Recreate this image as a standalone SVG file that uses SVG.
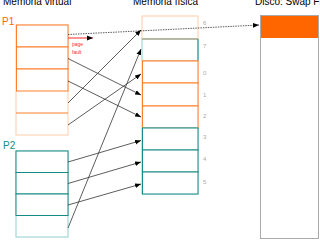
<svg xmlns="http://www.w3.org/2000/svg" width="320" height="240" viewBox="0 0 320 240">
  <defs>
    <style>
      .title { font-family: "Liberation Sans", Arial, sans-serif; font-size: 10px; fill: #000; }
      .plabel { font-family: "Liberation Sans", Arial, sans-serif; font-size: 10px; }
      .num { font-family: "Liberation Sans", Arial, sans-serif; font-size: 6px; fill: #aaa; }
      .fault { font-family: "Liberation Sans", Arial, sans-serif; font-size: 5px; fill: #ff2a2a; }
      .or { fill: #fff; stroke: #ff7f2a; stroke-width: 1; }
      .orl { fill: #fff; stroke: #ffccaa; stroke-width: 1; }
      .te { fill: #fff; stroke: #168a84; stroke-width: 1; }
      .tel { fill: #fff; stroke: #8fcfcf; stroke-width: 1; }
      .link { stroke: #333; stroke-width: 0.8; fill: none; marker-end: url(#ah); }
    </style>
    <marker id="ah" viewBox="0 0 10 10" refX="10" refY="5" markerWidth="6" markerHeight="6" markerUnits="userSpaceOnUse" orient="auto">
      <path d="M0,1 L10,5 L0,9 Z" fill="#000"/>
    </marker>
    <marker id="ahr" viewBox="0 0 10 10" refX="10" refY="5" markerWidth="6" markerHeight="6" markerUnits="userSpaceOnUse" orient="auto">
      <path d="M0,1 L10,5 L0,9 Z" fill="#000"/>
    </marker>
  </defs>

  <!-- column titles -->
  <text class="title" x="3" y="5">Memoria virtual</text>
  <text class="title" x="133" y="5">Memoria física</text>
  <text class="title" x="255" y="5">Disco: Swap File</text>

  <!-- process 1 virtual pages -->
  <g id="p1">
    <text class="plabel" x="2" y="25" fill="#ff6600">P1</text>
    <rect class="orl" x="16" y="25" width="52" height="110"/>
    <rect class="or" x="16.5" y="25" width="51.5" height="22"/>
    <rect class="or" x="16.5" y="47" width="51.5" height="22"/>
    <rect class="or" x="16.5" y="69" width="51.5" height="22"/>
    <line x1="16" y1="113" x2="68" y2="113" stroke="#ff7f2a"/>
  </g>

  <!-- process 2 virtual pages -->
  <g id="p2">
    <text class="plabel" x="3" y="149" fill="#168a84">P2</text>
    <rect class="tel" x="16" y="151" width="52" height="86"/>
    <rect class="te" x="16" y="151" width="52" height="21.5"/>
    <rect class="te" x="16" y="172.5" width="52" height="21.5"/>
    <rect class="te" x="16" y="194" width="52" height="21.5"/>
  </g>

  <!-- physical frames -->
  <g id="fisica">
    <rect class="orl" x="142" y="16" width="56" height="23"/>
    <rect class="tel" x="142" y="39" width="56" height="22"/>
    <line x1="198" y1="39" x2="198" y2="61" stroke="#168a84"/>
    <line x1="142" y1="39" x2="198" y2="39" stroke="#a89070"/>
    <line x1="142" y1="61" x2="198" y2="61" stroke="#a89070"/>
    <rect class="orl" x="142" y="61" width="56" height="67"/>
    <rect class="or" x="142.5" y="61" width="55.5" height="22"/>
    <rect class="or" x="142.5" y="83" width="55.5" height="23"/>
    <rect class="or" x="142.5" y="106" width="55.5" height="22"/>
    <rect class="tel" x="142" y="128" width="56" height="66"/>
    <rect class="te" x="142.5" y="128" width="55.5" height="22"/>
    <rect class="te" x="142.5" y="150" width="55.5" height="22"/>
    <rect class="te" x="142.5" y="172" width="55.5" height="22"/>
    <text class="num" x="203" y="25">6</text>
    <text class="num" x="203" y="48">7</text>
    <text class="num" x="203" y="75">0</text>
    <text class="num" x="203" y="97">1</text>
    <text class="num" x="203" y="118">2</text>
    <text class="num" x="203" y="139">3</text>
    <text class="num" x="203" y="161">4</text>
    <text class="num" x="203" y="184">5</text>
  </g>

  <!-- swap area on disk -->
  <g id="disco">
    <rect x="260.5" y="15.5" width="58" height="223" fill="#fff" stroke="#aaa" stroke-width="1"/>
    <rect x="261" y="16" width="57" height="22" fill="#ff6600"/>
  </g>

  <!-- mappings -->
  <g id="connectors">
    <line x1="68" y1="34.5" x2="259" y2="25" stroke="#333" stroke-width="0.8" stroke-dasharray="1.5,1" marker-end="url(#ah)"/>
    <line x1="68" y1="38" x2="93" y2="38" stroke="#ff2a2a" stroke-width="1" marker-end="url(#ahr)"/>
    <text class="fault" x="72" y="46">page</text>
    <text class="fault" x="72" y="54">fault</text>
    <line class="link" x1="68" y1="58.5" x2="141" y2="95"/>
    <line class="link" x1="68" y1="81" x2="141" y2="117"/>
    <line class="link" x1="68" y1="103" x2="141" y2="30"/>
    <line class="link" x1="68" y1="125" x2="141" y2="74"/>
    <line class="link" x1="68" y1="162" x2="141" y2="140.5"/>
    <line class="link" x1="68" y1="183.5" x2="141" y2="162"/>
    <line class="link" x1="68" y1="205" x2="141" y2="184"/>
    <line class="link" x1="68" y1="228" x2="141" y2="49"/>
  </g>
</svg>
